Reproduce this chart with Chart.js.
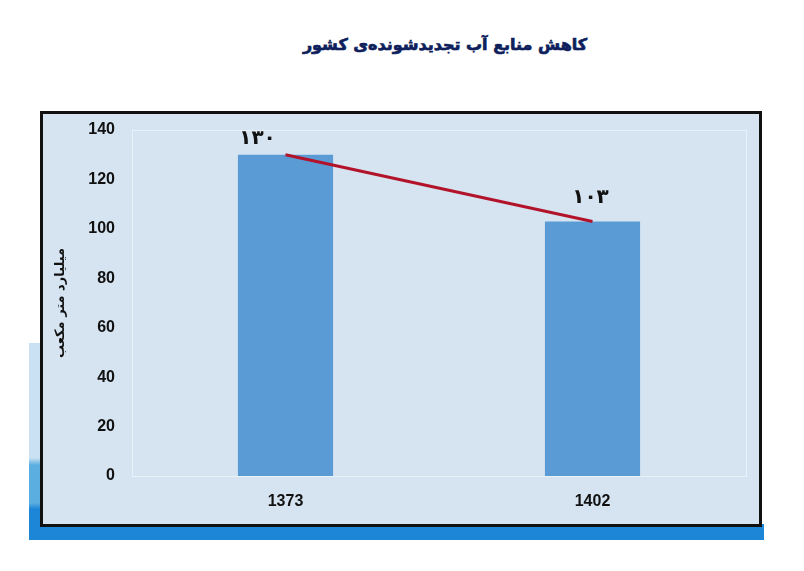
<!DOCTYPE html>
<html>
<head>
  <meta charset="UTF-8">
  <title>کاهش منابع آب</title>
  <script src="https://cdn.jsdelivr.net/npm/chart.js"></script>
  <style>
    body { margin: 0; background: #fff; width: 804px; height: 571px; position: relative; overflow: hidden; }
    #title { position: absolute; left: 0; width: 890px; top: 35px; text-align: center;
             font: bold 16px "DejaVu Sans", sans-serif; color: #0f1f5c; direction: rtl;
             -webkit-text-stroke: 0.7px #0f1f5c; }
    #side { position: absolute; left: 29px; top: 343px; width: 14px; height: 197px;
            background: linear-gradient(to bottom, #c9e1f2 0px, #c9e1f2 115px, #5aaee0 122px, #5aaee0 160px, #1e86d6 166px, #1e86d6 197px); }
    #strip { position: absolute; left: 29px; top: 524px; width: 735px; height: 16px; background: #1e86d6; }
    #box { position: absolute; left: 40px; top: 111px; width: 716px; height: 410px;
           border: 3px solid #111; background: #d6e4f1; }
  </style>
</head>
<body>
  <div id="title">کاهش منابع آب تجدیدشونده‌ی کشور</div>
  <div id="side"></div>
  <div id="strip"></div>
  <div id="box"><canvas id="chart" width="716" height="410"></canvas></div>

  <script>
    const years = ['1373', '1402'];
    const volumes = [130, 103];
    const valueLabels = ['۱۳۰', '۱۰۳'];

    const frame = {
      id: 'frame',
      beforeDatasetsDraw(chart) {
        const a = chart.chartArea, ctx = chart.ctx;
        ctx.save();
        ctx.strokeStyle = 'rgba(236,243,250,0.9)';
        ctx.lineWidth = 1;
        ctx.strokeRect(a.left + 0.5, a.top + 0.5, a.right - a.left, a.bottom - a.top);
        ctx.restore();
      }
    };

    const labelsPlugin = {
      id: 'valueLabels',
      afterDatasetsDraw(chart) {
        const ctx = chart.ctx;
        const meta = chart.getDatasetMeta(0);
        ctx.save();
        ctx.font = 'bold 20px "DejaVu Sans", sans-serif';
        ctx.fillStyle = '#111';
        ctx.textAlign = 'center';
        ctx.textBaseline = 'middle';
        meta.data.forEach((bar, i) => {
          ctx.fillText(valueLabels[i], bar.x - (i === 0 ? 28 : 2), bar.y - (i === 0 ? 16 : 24));
        });
        ctx.restore();
      }
    };

    new Chart(document.getElementById('chart').getContext('2d'), {
      data: {
        labels: years,
        datasets: [
          {
            type: 'line',
            data: volumes,
            borderColor: '#b3132a',
            borderWidth: 3,
            pointRadius: 0,
            order: 0
          },
          {
            type: 'bar',
            data: volumes,
            backgroundColor: '#5b9bd5',
            barPercentage: 0.31,
            categoryPercentage: 1,
            order: 1
          }
        ]
      },
      options: {
        responsive: false,
        animation: false,
        layout: { padding: { top: 16, right: 13, left: 0, bottom: 0 } },
        plugins: { legend: { display: false }, tooltip: { enabled: false } },
        scales: {
          x: {
            grid: { display: false, drawTicks: false },
            border: { display: false },
            ticks: { color: '#111', font: { family: 'Liberation Sans', size: 16, weight: 'bold' }, padding: 16 },
            afterFit(s) { s.height = 48; }
          },
          y: {
            min: 0, max: 140,
            grid: { display: false, drawTicks: false },
            border: { display: false },
            ticks: { stepSize: 20, color: '#111', font: { family: 'Liberation Sans', size: 16, weight: 'bold' }, padding: 17 },
            title: {
              display: true,
              text: 'میلیارد متر مکعب',
              color: '#111',
              font: { family: 'DejaVu Sans', size: 13, weight: 'bold' },
              padding: { top: 10, bottom: 0 }
            },
            afterFit(s) { s.width = 89; s.paddingTop = 0; s.paddingBottom = 0; }
          }
        }
      },
      plugins: [frame, labelsPlugin]
    });
  </script>
</body>
</html>
